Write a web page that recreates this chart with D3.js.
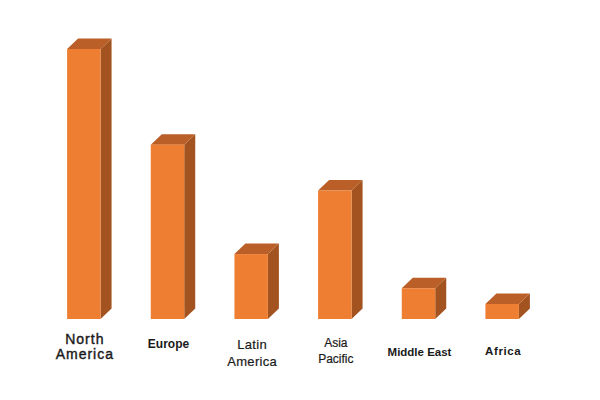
<!DOCTYPE html>
<html><head><meta charset="utf-8">
<script src="https://cdn.jsdelivr.net/npm/d3@7"></script>
<style>html,body{margin:0;padding:0;background:#fff;}svg{display:block;}</style>
</head><body>
<svg id="c" width="600" height="400"></svg>
<script>
const categories = ["North America","Europe","Latin America","Asia Pacific","Middle East","Africa"];
const values = [39.5, 25.5, 9.5, 18.8, 4.5, 2.2];
const labelLines = [["North","America"],["Europe"],["Latin","America"],["Asia","Pacific"],["Middle East"],["Africa"]];
const labelStyle = [
  {size:14, weight:"normal", y:343.5, ls:1, lh:15, sw:0.4},
  {size:12, weight:"bold", y:348, ls:0, lh:15, sw:0},
  {size:13, weight:"normal", y:349, ls:0.3, lh:16.5, sw:0.2},
  {size:12, weight:"normal", y:347, ls:0, lh:15.6, sw:0.2},
  {size:11.5, weight:"bold", y:356, ls:0, lh:15, sw:0},
  {size:11.5, weight:"bold", y:355, ls:0.6, lh:15, sw:0}
];

const svg = d3.select("#c");
const x = d3.scaleBand().domain(categories).range([42, 544]).paddingInner(0.6).paddingOuter(0.3);
const y = d3.scaleLinear().domain([0, 39.5]).range([319, 49]);
const dx = 11, dy = 10.5;
const frontCol = "#EE7E32", topCol = "#BA5F27", sideCol = "#A3531F";

const g = svg.append("g");
categories.forEach((c,i)=>{
  const x0 = x(c), w = x.bandwidth(), y0 = y(values[i]), yb = y(0);
  g.append("path").attr("d",`M${x0+w},${y0}L${x0+w+dx},${y0-dy}L${x0+w+dx},${yb-dy}L${x0+w},${yb}Z`).attr("fill",sideCol);
  g.append("path").attr("d",`M${x0},${y0}L${x0+dx},${y0-dy}L${x0+w+dx},${y0-dy}L${x0+w},${y0}Z`).attr("fill",topCol);
  g.append("rect").attr("x",x0).attr("y",y0).attr("width",w).attr("height",yb-y0).attr("fill",frontCol);
  const st = labelStyle[i];
  const t = g.append("text").attr("x",x0+w/2+1).attr("y",st.y).attr("text-anchor","middle")
    .attr("font-family","Liberation Sans, Arial, sans-serif").attr("font-size",st.size)
    .attr("font-weight",st.weight).attr("letter-spacing",st.ls).attr("fill","#1a1a1a")
    .attr("stroke", st.sw ? "#1a1a1a" : "none").attr("stroke-width", st.sw);
  labelLines[i].forEach((l,j)=>{
    t.append("tspan").attr("x",x0+w/2+1).attr("dy", j===0?0:st.lh).text(l);
  });
});
</script>
</body></html>
